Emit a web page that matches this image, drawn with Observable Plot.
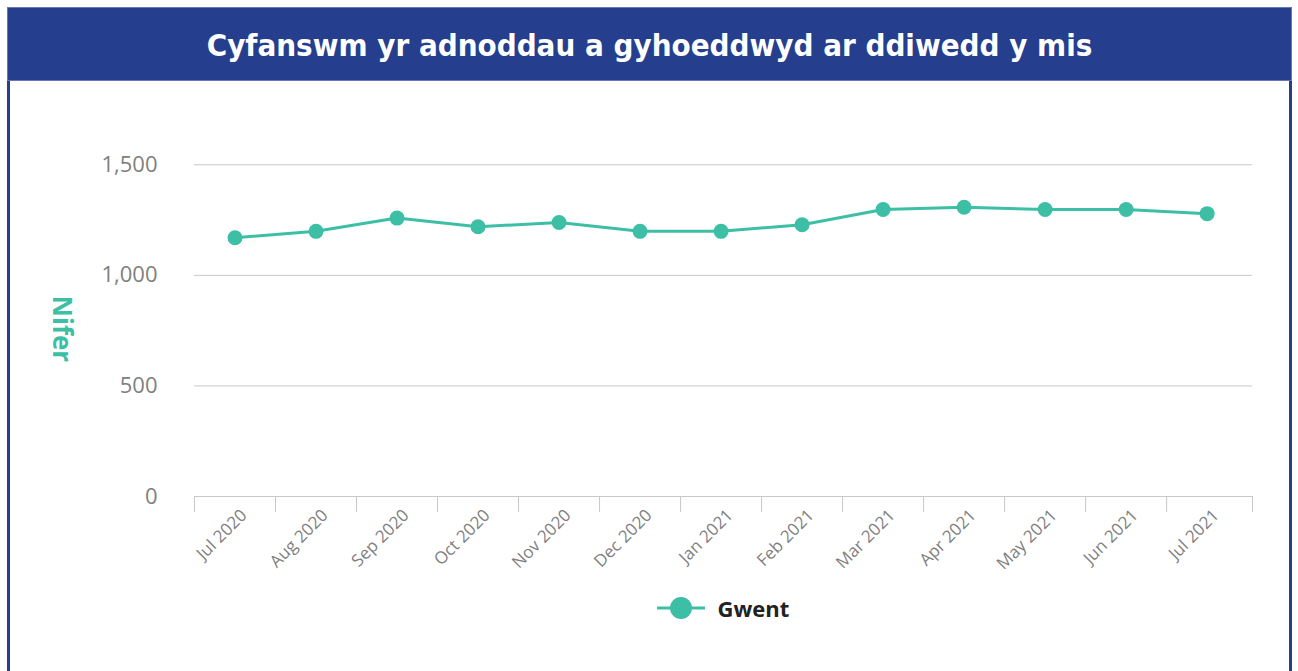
<!DOCTYPE html>
<html>
<head>
<meta charset="utf-8">
<script src="https://cdn.jsdelivr.net/npm/d3@7"></script>
<script src="https://cdn.jsdelivr.net/npm/@observablehq/plot@0.6"></script>
<style>
  html, body { margin: 0; padding: 0; background: #ffffff; width: 1298px; height: 671px; overflow: hidden; }
  #frame { position: absolute; left: 7px; top: 7px; width: 1279px; height: 700px;
           border-left: 3px solid #253e8e; border-right: 3px solid #253e8e; }
  #title { position: absolute; left: 7px; top: 7px; width: 1285px; height: 74px; background: #253e8e;
           box-sizing: border-box; border: 1px solid #6677b8;
           color: #ffffff; font-family: "DejaVu Sans Condensed", "DejaVu Sans", sans-serif; font-weight: bold;
           font-size: 31px; text-align: center; line-height: 74px; }
  #chart { position: absolute; left: 0; top: 81px; }
  #legend { position: absolute; left: 194px; top: 593px; width: 1058px; display: flex; justify-content: center; align-items: center;
            font-family: "Open Sans", "Noto Sans", sans-serif; font-weight: bold; font-size: 22px; color: #222222; }
  #legend svg { margin-right: 13px; }
</style>
</head>
<body>
<div id="frame"></div>
<div id="title">Cyfanswm yr adnoddau a gyhoeddwyd ar ddiwedd y mis</div>
<div id="chart"></div>
<div id="legend"></div>
<script>
// ---- data ----
const months = ["Jul 2020","Aug 2020","Sep 2020","Oct 2020","Nov 2020","Dec 2020","Jan 2021","Feb 2021","Mar 2021","Apr 2021","May 2021","Jun 2021","Jul 2021"];
const values = [1170, 1199, 1259, 1220, 1239, 1199, 1199, 1229, 1298, 1308, 1298, 1298, 1279];
const seriesName = "Gwent";
const yTicks = [0, 500, 1000, 1500];
const yLabel = "Nifer";

const teal = "#3cbfa5";
const grid = "#c8c8c8";
const xEnd = 13.06;

const data = months.map((m, i) => ({month: m, pos: i + 0.5, value: values[i]}));
const centers = data.map(d => d.pos);
const boundaries = d3.range(0, months.length).concat([xEnd]);

const chart = Plot.plot({
  width: 1298,
  height: 500,
  marginLeft: 194,
  marginRight: 46,
  marginTop: 28,
  marginBottom: 85,
  style: {fontFamily: "'Open Sans', 'Noto Sans', sans-serif", background: "transparent"},
  x: {type: "linear", domain: [0, xEnd]},
  y: {domain: [0, 1750]},
  marks: [
    Plot.gridY(yTicks.filter(t => t > 0), {stroke: grid, strokeOpacity: 1, strokeWidth: 1}),
    Plot.ruleY([0], {stroke: grid, strokeWidth: 1}),
    Plot.axisY(yTicks, {tickSize: 0, tickPadding: 37, fontSize: 22, color: "#808080", tickFormat: d3.format(","), label: null}),
    Plot.axisX(boundaries, {tickSize: 16, stroke: grid, tickFormat: () => "", label: null}),
    Plot.axisX(centers, {tickSize: 0, tickRotate: -45, tickPadding: 10, fontSize: 17, color: "#808080",
                         tickFormat: p => months[Math.round(p - 0.5)], label: null, dx: 9, dy: 6}),
    Plot.text([yLabel], {frameAnchor: "left", textAnchor: "middle", dx: -133, dy: 26, rotate: 90, fontSize: 26, fontWeight: "bold", fill: teal}),
    Plot.line(data, {x: "pos", y: "value", stroke: teal, strokeWidth: 3}),
    Plot.dot(data, {x: "pos", y: "value", r: 7.5, fill: teal, stroke: "none"})
  ]
});
document.getElementById("chart").appendChild(chart);

// legend
const leg = d3.select("#legend");
const sw = leg.append("svg").attr("width", 48).attr("height", 26);
sw.append("line").attr("x1", 0).attr("x2", 48).attr("y1", 13).attr("y2", 13).attr("stroke", teal).attr("stroke-width", 3);
sw.append("circle").attr("cx", 24).attr("cy", 13).attr("r", 11).attr("fill", teal);
leg.append("span").text(seriesName);
</script>
</body>
</html>
